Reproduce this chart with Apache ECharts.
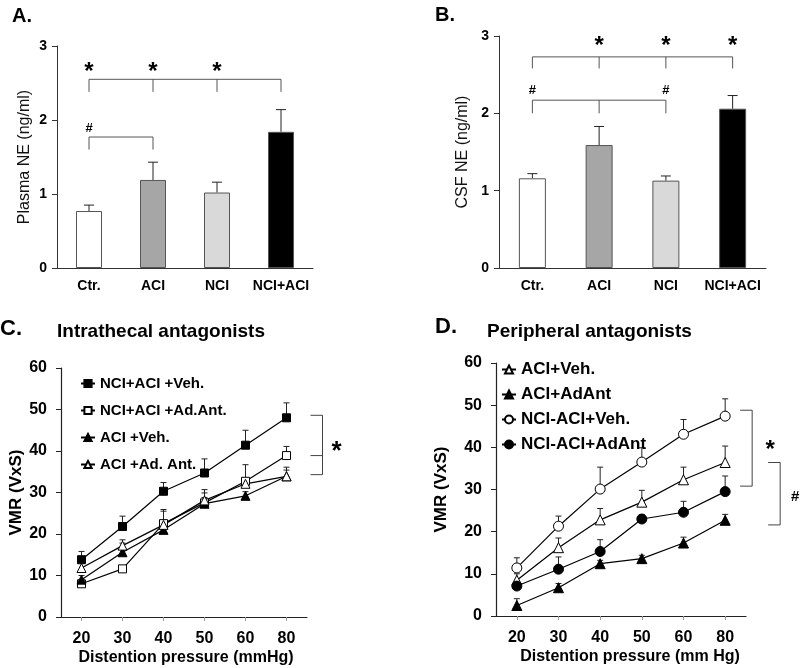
<!DOCTYPE html>
<html>
<head>
<meta charset="utf-8">
<script src="https://cdn.jsdelivr.net/npm/echarts@6/dist/echarts.min.js"></script>
<style>
  html, body { margin: 0; padding: 0; background: #fff; }
  #main { width: 800px; height: 668px; }
</style>
</head>
<body>
<div id="main"></div>
<script>
// groups for panels A and B
var groups = ['Ctr.', 'ACI', 'NCI', 'NCI+ACI']
var plasmaMean = [0.77, 1.19, 1.02, 1.84]
var plasmaErr = [0.08, 0.24, 0.14, 0.30]
var csfMean = [1.16, 1.59, 1.13, 2.06]
var csfErr = [0.06, 0.24, 0.06, 0.17]

// significance brackets: [from, to, line value, drop value]
var bracketsA = [[0, 3, 2.55, 2.38], [0, 1, 1.77, 1.60]]
var starsA = [[0, 2.72], [1, 2.72], [2, 2.72]]
var hashA = [[0, 1.89]]
var bracketsB = [[0, 3, 2.73, 2.58], [0, 2, 2.17, 2.00]]
var starsB = [[1, 2.93], [2, 2.93], [3, 2.93]]
var hashB = [[0, 2.30], [2, 2.30]]

// panels C and D
var pressures = ['20', '30', '40', '50', '60', '80']
var cVehNA = [13.8, 21.8, 30.3, 34.7, 41.4, 48.0]
var cVehNAErr = [2.0, 2.5, 2.1, 3.4, 3.6, 3.6]
var cAntNA = [8.0, 11.6, 22.5, 27.5, 32.7, 38.9]
var cAntNAErr = [0.5, 0.5, 3.0, 2.4, 4.0, 2.2]
var cVehA = [9.0, 15.6, 21.0, 27.3, 29.2, 33.9]
var cVehAErr = [1.0, 2.2, 1.0, 1.5, 1.0, 1.5]
var cAntA = [11.8, 17.2, 22.2, 28.1, 32.1, 33.9]
var cAntAErr = [2.8, 1.4, 3.7, 2.6, 1.4, 2.2]
var bracketC = [48.6, 38.9, 34.3]

var dVehA = [8.5, 16.2, 22.8, 27.0, 32.3, 36.4]
var dVehAErr = [1.5, 2.3, 2.7, 2.8, 3.0, 3.9]
var dAntA = [2.5, 6.7, 12.4, 13.6, 17.3, 22.7]
var dAntAErr = [1.6, 1.0, 0.8, 0.8, 1.4, 1.4]
var dVehNA = [11.4, 21.3, 30.1, 36.5, 43.1, 47.4]
var dVehNAErr = [2.4, 2.4, 5.2, 3.4, 3.5, 4.1]
var dAntNA = [7.1, 11.1, 15.3, 23.0, 24.6, 29.5]
var dAntNAErr = [0.8, 2.9, 2.8, 1.0, 2.6, 3.7]
var bracketD1 = [48.8, 30.8]
var bracketD2 = [36.4, 21.6]

var FONT = 'Liberation Sans, Arial, sans-serif'

// the asterisk glyph sits high in its box, push it down a bit
function glyphShift (ch, size) {
  return ch === '*' ? size * 0.22 : 0
}

function errData (mean, err) {
  return mean.map(function (m, i) { return [i, m, m + err[i]] })
}

function errSeries (idx, mean, err, cap) {
  return {
    type: 'custom',
    xAxisIndex: idx,
    yAxisIndex: idx,
    data: errData(mean, err),
    z: 1,
    renderItem: function (params, api) {
      var p0 = api.coord([api.value(0), api.value(1)])
      var p1 = api.coord([api.value(0), api.value(2)])
      var st = { stroke: '#222', lineWidth: 1 }
      return {
        type: 'group',
        children: [
          { type: 'line', shape: { x1: p0[0], y1: p0[1], x2: p1[0], y2: p1[1] }, style: st },
          { type: 'line', shape: { x1: p1[0] - cap, y1: p1[1], x2: p1[0] + cap, y2: p1[1] }, style: st }
        ]
      }
    }
  }
}

function bracketSeries (idx, list) {
  return {
    type: 'custom',
    xAxisIndex: idx,
    yAxisIndex: idx,
    data: list,
    z: 3,
    renderItem: function (params, api) {
      var from = api.value(0)
      var to = api.value(1)
      var yl = api.value(2)
      var yd = api.value(3)
      var st = { stroke: '#555', lineWidth: 1 }
      var a = api.coord([from, yl])
      var b = api.coord([to, yl])
      var kids = [{ type: 'line', shape: { x1: a[0], y1: a[1], x2: b[0], y2: b[1] }, style: st }]
      for (var i = from; i <= to; i++) {
        var t = api.coord([i, yl])
        var d = api.coord([i, yd])
        kids.push({ type: 'line', shape: { x1: t[0], y1: t[1], x2: d[0], y2: d[1] }, style: st })
      }
      return { type: 'group', children: kids }
    }
  }
}

function markSeries (idx, list, ch, size) {
  return {
    type: 'custom',
    xAxisIndex: idx,
    yAxisIndex: idx,
    data: list,
    z: 3,
    renderItem: function (params, api) {
      var p = api.coord([api.value(0), api.value(1)])
      return {
        type: 'text',
        x: p[0],
        y: p[1] + glyphShift(ch, size),
        style: { text: ch, fill: '#000', font: 'bold ' + size + 'px ' + FONT, align: 'center', verticalAlign: 'middle' }
      }
    }
  }
}

// bracket to the right of the last point; dx = pixel offset from last category
function sideBracket (idx, ticks, dx, label, labelDx, labelY, labelSize) {
  var top = Math.max.apply(null, ticks)
  var bot = Math.min.apply(null, ticks)
  return {
    type: 'custom',
    xAxisIndex: idx,
    yAxisIndex: idx,
    data: [[5, top]],
    z: 3,
    renderItem: function (params, api) {
      var st = { stroke: '#444', lineWidth: 1 }
      var a = api.coord([5, top])
      var b = api.coord([5, bot])
      var x = a[0] + dx
      var kids = [{ type: 'line', shape: { x1: x, y1: a[1], x2: x, y2: b[1] }, style: st }]
      ticks.forEach(function (v) {
        var p = api.coord([5, v])
        kids.push({ type: 'line', shape: { x1: x - 12, y1: p[1], x2: x, y2: p[1] }, style: st })
      })
      var lp = api.coord([5, labelY])
      kids.push({
        type: 'text',
        x: a[0] + labelDx,
        y: lp[1] + glyphShift(label, labelSize),
        style: { text: label, fill: '#000', font: 'bold ' + labelSize + 'px ' + FONT, align: 'center', verticalAlign: 'middle' }
      })
      return { type: 'group', children: kids }
    }
  }
}

function lineSeries (idx, name, data, symbol, filled, size) {
  return {
    name: name,
    type: 'line',
    xAxisIndex: idx,
    yAxisIndex: idx,
    data: data,
    symbol: symbol,
    symbolSize: size,
    showAllSymbol: true,
    z: 4,
    lineStyle: { color: '#000', width: 1.2 },
    itemStyle: { color: filled ? '#000' : '#fff', borderColor: '#000', borderWidth: 1 }
  }
}

var barColors = ['#ffffff', '#a6a6a6', '#d9d9d9', '#000000']

function barAxisX (idx) {
  return {
    type: 'category',
    gridIndex: idx,
    data: groups,
    axisLine: { lineStyle: { color: '#333', width: 1 } },
    axisTick: { show: false },
    axisLabel: { interval: 0, color: '#000', fontWeight: 'bold', fontSize: 14, margin: 11, fontFamily: FONT }
  }
}

function barAxisY (idx, name, gap) {
  return {
    type: 'value',
    gridIndex: idx,
    min: 0,
    max: 3,
    interval: 1,
    name: name,
    nameLocation: 'middle',
    nameGap: gap,
    nameTextStyle: { color: '#111', fontSize: 16, fontFamily: FONT },
    axisLine: { show: true, lineStyle: { color: '#333', width: 1 } },
    axisTick: { show: true, length: 5, lineStyle: { color: '#333' } },
    splitLine: { show: false },
    axisLabel: { color: '#000', fontWeight: 'bold', fontSize: 14, margin: 10, fontFamily: FONT }
  }
}

function lineAxisX (idx, name, shift) {
  return {
    type: 'category',
    gridIndex: idx,
    data: pressures,
    name: name,
    nameLocation: 'middle',
    nameGap: 33,
    nameTextStyle: { color: '#000', fontWeight: 'bold', fontSize: 16, fontFamily: FONT, padding: [0, 0, 0, shift] },
    axisLine: { lineStyle: { color: '#222', width: 1.2 } },
    axisTick: { show: true, alignWithLabel: true, length: 4, lineStyle: { color: '#999' } },
    axisLabel: { interval: 0, color: '#000', fontWeight: 'bold', fontSize: 16, margin: 14, fontFamily: FONT }
  }
}

function lineAxisY (idx, gap) {
  return {
    type: 'value',
    gridIndex: idx,
    min: 0,
    max: 60,
    interval: 10,
    name: 'VMR (VxS)',
    nameLocation: 'middle',
    nameGap: gap,
    nameTextStyle: { color: '#000', fontWeight: 'bold', fontSize: 17, fontFamily: FONT },
    axisLine: { show: true, lineStyle: { color: '#222', width: 1.2 } },
    axisTick: { show: true, length: 5, lineStyle: { color: '#222' } },
    splitLine: { show: false },
    axisLabel: { color: '#000', fontWeight: 'bold', fontSize: 16, margin: 14, fontFamily: FONT }
  }
}

function titleItem (text, left, top, size) {
  return { text: text, left: left, top: top, padding: 0, textStyle: { fontSize: size, fontWeight: 'bold', color: '#000', fontFamily: FONT } }
}

var option = {
  animation: false,
  backgroundColor: '#fff',
  textStyle: { fontFamily: FONT },
  title: [
    titleItem('A.', 12, 6, 20),
    titleItem('B.', 435, 5, 20),
    titleItem('C.', 0, 318, 22),
    titleItem('Intrathecal antagonists', 57, 322, 19),
    titleItem('D.', 435, 316, 22),
    titleItem('Peripheral antagonists', 487, 322, 19)
  ],
  legend: [
    {
      left: 80,
      top: 376,
      padding: 0,
      orient: 'vertical',
      itemWidth: 14,
      itemHeight: 9,
      itemGap: 12,
      textStyle: { color: '#000', fontWeight: 'bold', fontSize: 15, fontFamily: FONT },
      data: ['NCI+ACI +Veh.', 'NCI+ACI +Ad.Ant.', 'ACI +Veh.', 'ACI +Ad. Ant.']
    },
    {
      left: 501,
      top: 361,
      padding: 0,
      orient: 'vertical',
      itemWidth: 14,
      itemHeight: 10,
      itemGap: 8,
      textStyle: { color: '#000', fontWeight: 'bold', fontSize: 17, fontFamily: FONT },
      data: ['ACI+Veh.', 'ACI+AdAnt', 'NCI-ACI+Veh.', 'NCI-ACI+AdAnt']
    }
  ],
  grid: [
    { left: 57, top: 46, width: 256, height: 222 },
    { left: 499, top: 36, width: 267, height: 232 },
    { left: 61, top: 368, width: 246, height: 249 },
    { left: 496, top: 363, width: 250, height: 253 }
  ],
  xAxis: [
    barAxisX(0),
    barAxisX(1),
    lineAxisX(2, 'Distention pressure (mmHg)', 4),
    lineAxisX(3, 'Distention pressure (mm Hg)', 18)
  ],
  yAxis: [
    barAxisY(0, 'Plasma NE (ng/ml)', 24),
    barAxisY(1, 'CSF NE (ng/ml)', 28),
    lineAxisY(2, 35),
    lineAxisY(3, 46)
  ],
  series: [
    {
      type: 'bar',
      xAxisIndex: 0,
      yAxisIndex: 0,
      barWidth: 26,
      data: plasmaMean,
      itemStyle: {
        borderColor: '#555',
        borderWidth: 1,
        color: function (p) { return barColors[p.dataIndex] }
      }
    },
    errSeries(0, plasmaMean, plasmaErr, 5),
    bracketSeries(0, bracketsA),
    markSeries(0, starsA, '*', 24),
    markSeries(0, hashA, '#', 13),
    {
      type: 'bar',
      xAxisIndex: 1,
      yAxisIndex: 1,
      barWidth: 27,
      data: csfMean,
      itemStyle: {
        borderColor: '#555',
        borderWidth: 1,
        color: function (p) { return barColors[p.dataIndex] }
      }
    },
    errSeries(1, csfMean, csfErr, 5),
    bracketSeries(1, bracketsB),
    markSeries(1, starsB, '*', 24),
    markSeries(1, hashB, '#', 13),

    errSeries(2, cVehNA, cVehNAErr, 3),
    errSeries(2, cAntNA, cAntNAErr, 3),
    errSeries(2, cVehA, cVehAErr, 3),
    errSeries(2, cAntA, cAntAErr, 3),
    lineSeries(2, 'NCI+ACI +Veh.', cVehNA, 'rect', true, 8),
    lineSeries(2, 'NCI+ACI +Ad.Ant.', cAntNA, 'rect', false, 8),
    lineSeries(2, 'ACI +Veh.', cVehA, 'triangle', true, 9),
    lineSeries(2, 'ACI +Ad. Ant.', cAntA, 'triangle', false, 9),
    sideBracket(2, bracketC, 36, '*', 50, 41.1, 26),

    errSeries(3, dVehA, dVehAErr, 3),
    errSeries(3, dAntA, dAntAErr, 3),
    errSeries(3, dVehNA, dVehNAErr, 3),
    errSeries(3, dAntNA, dAntNAErr, 3),
    lineSeries(3, 'ACI+Veh.', dVehA, 'triangle', false, 10),
    lineSeries(3, 'ACI+AdAnt', dAntA, 'triangle', true, 10),
    lineSeries(3, 'NCI-ACI+Veh.', dVehNA, 'circle', false, 10),
    lineSeries(3, 'NCI-ACI+AdAnt', dAntNA, 'circle', true, 10),
    sideBracket(3, bracketD1, 27, '*', 45, 40.5, 24),
    sideBracket(3, bracketD2, 55, '#', 70, 28.2, 15)
  ]
}

var myChart = echarts.init(document.getElementById('main'))
myChart.setOption(option)
</script>
</body>
</html>
